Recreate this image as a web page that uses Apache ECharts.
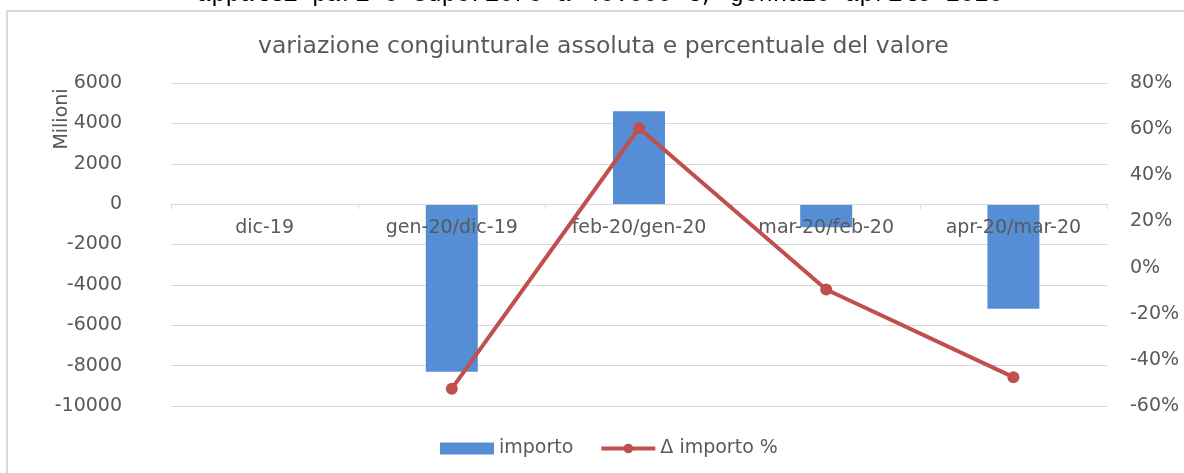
<!DOCTYPE html>
<html>
<head>
<meta charset="utf-8">
<script src="https://cdn.jsdelivr.net/npm/echarts@6/dist/echarts.min.js"></script>
<style>
html,body{margin:0;padding:0;background:#fff;}
#c{width:1184px;height:473px;}
</style>
</head>
<body>
<div id="c"></div>
<script>
var categories = ['dic-19', 'gen-20/dic-19', 'feb-20/gen-20', 'mar-20/feb-20', 'apr-20/mar-20'];
var importo = [null, -8300, 4600, -1150, -5180];
var deltaPct = [null, -52.5, 60.5, -9.5, -47.5];
var leftTicks = {min: -10000, max: 6000, interval: 2000};
var rightTicks = {min: -60, max: 80, interval: 20};

var FONT = 'DejaVu Sans';
var GRAY = '#595959';
var GRID = {left: 171, right: 77, top: 83, bottom: 67};
var H = 473;
var chart = echarts.init(document.getElementById('c'));
var plotH = H - GRID.top - GRID.bottom;
var zeroOffset = -plotH * (0 - leftTicks.min) / (leftTicks.max - leftTicks.min);
chart.setOption({
  animation: false,
  textStyle: {fontFamily: FONT},
  graphic: [
    {type: 'rect', shape: {x: 7, y: 11, width: 1200, height: 480},
     style: {fill: 'none', stroke: '#d9d9d9', lineWidth: 2}, silent: true},
    {type: 'text', x: 600, y: -5,
     style: {text: 'appalti pari o superiore a 40.000 €, gennaio-aprile 2020',
       font: '24px "Liberation Mono"', fill: '#000', align: 'center', verticalAlign: 'middle'}},
    {type: 'text', x: 62, y: 119, rotation: Math.PI / 2,
     style: {text: 'Milioni', font: '19px "DejaVu Sans"', fill: GRAY, align: 'center', verticalAlign: 'middle'}}
  ],
  title: {
    text: 'variazione congiunturale assoluta e percentuale del valore',
    left: 253, top: 30,
    textStyle: {fontFamily: FONT, fontSize: 23.5, fontWeight: 'normal', color: GRAY}
  },
  legend: {
    left: 435, top: 434,
    itemWidth: 54, itemHeight: 12, itemGap: 26,
    textStyle: {fontFamily: FONT, fontSize: 19, color: GRAY},
    data: [
      {name: 'importo', icon: 'rect'},
      {name: 'Δ importo %', lineStyle: {width: 4}}
    ]
  },
  grid: GRID,
  xAxis: {
    type: 'category', data: categories, boundaryGap: true, z: 3,
    position: 'bottom', offset: zeroOffset,
    axisLine: {onZero: false, lineStyle: {color: '#d9d9d9', width: 1}},
    axisTick: {show: true, length: 5, lineStyle: {color: '#d9d9d9'}},
    axisLabel: {fontFamily: FONT, fontSize: 19, color: GRAY, margin: 14}
  },
  yAxis: [
    {type: 'value', min: leftTicks.min, max: leftTicks.max, interval: leftTicks.interval,
     axisLine: {show: false}, axisTick: {show: false},
     axisLabel: {fontFamily: FONT, fontSize: 19, color: GRAY, margin: 49, formatter: function (v) { return String(v); }},
     splitLine: {lineStyle: {color: '#d9d9d9', width: 1}}},
    {type: 'value', min: rightTicks.min, max: rightTicks.max, interval: rightTicks.interval,
     axisLine: {show: false}, axisTick: {show: false}, splitLine: {show: false},
     axisLabel: {fontFamily: FONT, fontSize: 19, color: GRAY, margin: 23, formatter: '{value}%'}}
  ],
  series: [
    {name: 'importo', type: 'bar', data: importo, barWidth: 52, yAxisIndex: 0, z: 2,
     itemStyle: {color: '#558ED5'}},
    {name: 'Δ importo %', type: 'line', data: deltaPct, yAxisIndex: 1,
     symbol: 'circle', symbolSize: 12, z: 5,
     lineStyle: {color: '#C0504D', width: 4},
     itemStyle: {color: '#C0504D'}}
  ]
});
</script>
</body>
</html>
